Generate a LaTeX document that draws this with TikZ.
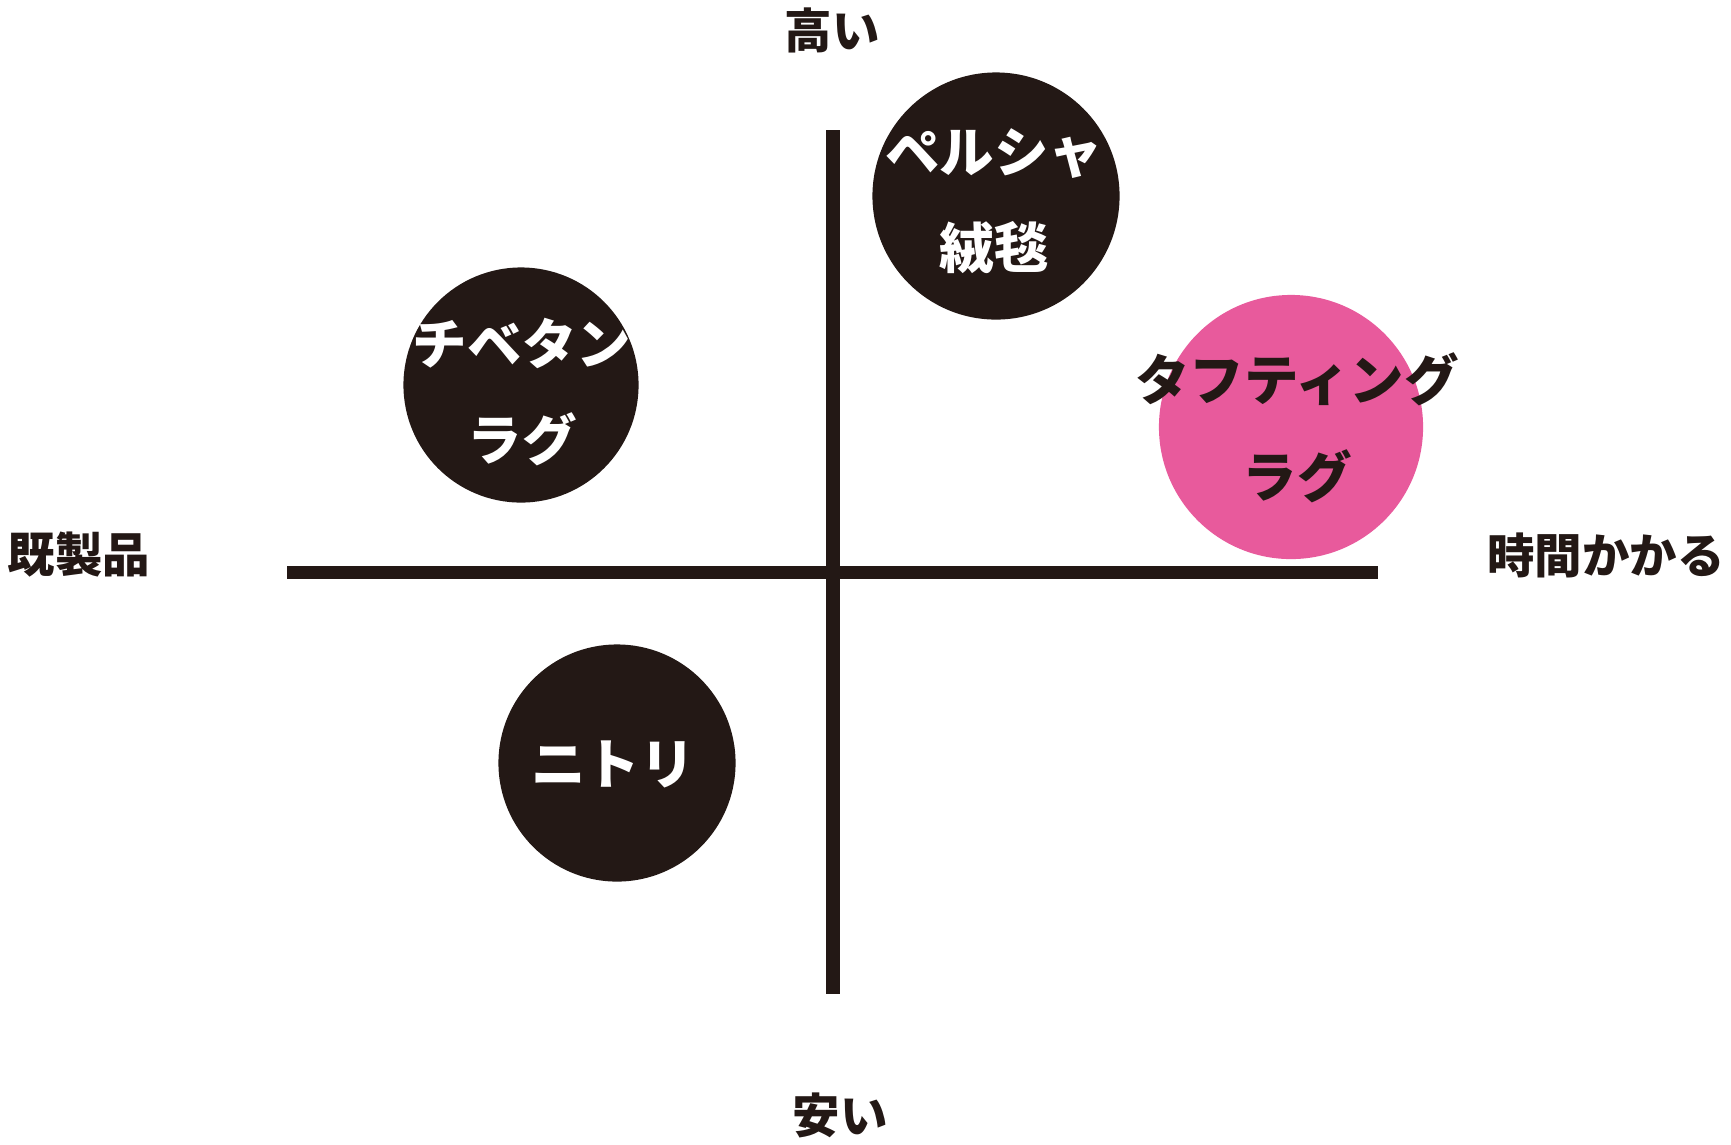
\documentclass[tikz,border=0pt]{standalone}
\usepackage{fontspec}
\newfontfamily\jpfont{Noto Sans CJK JP}
\definecolor{ink}{HTML}{231815}
\definecolor{rugpink}{HTML}{E85A9C}

\begin{document}
\begin{tikzpicture}[x=0.01cm,y=-0.01cm,
    axis/.style={line width=3.9pt,ink},
    disc/.style={circle,inner sep=0pt,fill=ink},
    axlabel/.style={text=ink,font=\jpfont\bfseries\fontsize{13.5pt}{16pt}\selectfont},
    rug/.style={align=center,font=\jpfont\bfseries\fontsize{15.5pt}{27.5pt}\selectfont}]
    \useasboundingbox (0,0) rectangle (1731,1144);

    % axes
    \coordinate (top) at (833,130);
    \coordinate (bottom) at (833,994);
    \coordinate (left) at (287,572.5);
    \coordinate (right) at (1378,572.5);
    \draw[axis] (top) -- (bottom);
    \draw[axis] (left) -- (right);

    \node[axlabel] (high) at (832,30) {高い};
    \node[axlabel] (cheap) at (840,1115) {安い};
    \node[axlabel] (ready) at (79,555) {既製品};
    \node[axlabel] (slow) at (1606,555) {時間かかる};

    % rugs
    \node[disc,minimum size=2.47cm] (persia) at (996,196) {};
    \node[disc,minimum size=2.35cm] (tibet) at (521,385) {};
    \node[disc,minimum size=2.64cm,fill=rugpink] (tufting) at (1291,427) {};
    \node[disc,minimum size=2.37cm] (nitori) at (617,763) {};

    \node[rug,text=white] (persiatext) at (994,202) {ペルシャ\\絨毯};
    \node[rug,text=white] (tibettext) at (522,392) {チベタン\\ラグ};
    \node[rug,text=ink] (tuftingtext) at (1297,428) {タフティング\\ラグ};
    \node[rug,text=white] (nitoritext) at (613,764) {ニトリ};
\end{tikzpicture}
\end{document}
